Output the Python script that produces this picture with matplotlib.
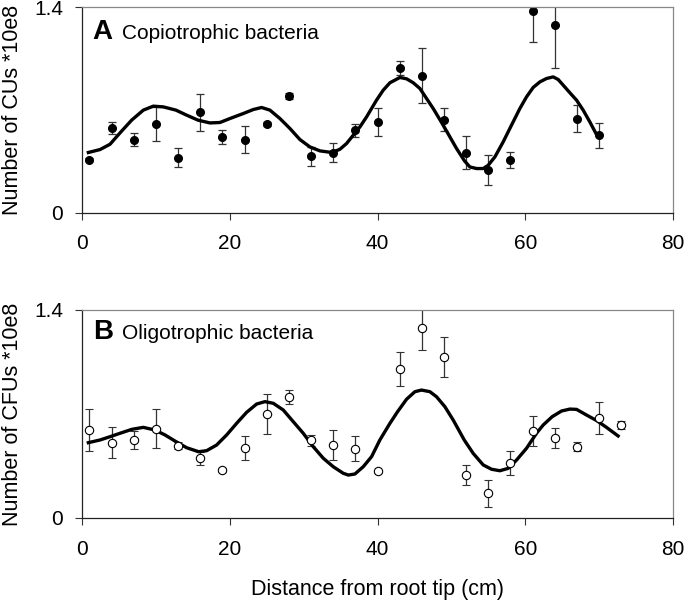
import matplotlib
matplotlib.use('Agg')
import matplotlib.pyplot as plt

plt.rcParams['font.family'] = ['Liberation Sans', 'DejaVu Sans']

# panel A: copiotrophic bacteria
cop_x = [1, 4, 7, 10, 13, 16, 19, 22, 25, 28, 31, 34, 37, 40,
         43, 46, 49, 52, 55, 58, 61, 64, 67, 70]
cop_y = [0.363, 0.576, 0.499, 0.603, 0.377, 0.683, 0.517, 0.499, 0.603, 0.796,
         0.384, 0.411, 0.563, 0.617, 0.984, 0.932, 0.635, 0.411, 0.290, 0.360,
         1.374, 1.275, 0.640, 0.527]
cop_err = [0.012, 0.039, 0.045, 0.116, 0.066, 0.127, 0.050, 0.093, 0.012, 0.018,
           0.063, 0.066, 0.045, 0.096, 0.048, 0.187, 0.077, 0.111, 0.103, 0.057,
           0.209, 0.290, 0.091, 0.084]
# fitted curve
cop_fit_x = [0.86, 2.44, 3.79, 5.14, 6.72, 8.30, 9.65, 11.01, 12.72, 14.16,
             15.70, 17.32, 18.67, 20.03, 21.83, 23.18, 24.31, 25.44, 26.79,
             28.15, 29.50, 30.85, 32.21, 33.83, 34.91, 35.81, 36.72, 37.62,
             38.52, 39.87, 40.78, 41.68, 43.03, 43.93, 44.84, 45.74, 46.64,
             47.54, 48.71, 49.80, 50.70, 51.78, 52.50, 53.41, 54.31, 54.98,
             55.89, 57.01, 58.14, 59.27, 60.17, 61.07, 61.98, 62.88, 63.78,
             64.46, 65.13, 66.04, 66.94, 67.84, 68.74, 69.69]
cop_fit_y = [0.411, 0.431, 0.467, 0.544, 0.631, 0.699, 0.726, 0.721, 0.699, 0.665,
             0.631, 0.612, 0.615, 0.642, 0.676, 0.703, 0.717, 0.699, 0.642,
             0.574, 0.499, 0.449, 0.422, 0.411, 0.433, 0.472, 0.529, 0.585,
             0.653, 0.767, 0.835, 0.885, 0.921, 0.912, 0.885, 0.846, 0.778,
             0.710, 0.612, 0.517, 0.438, 0.354, 0.313, 0.302, 0.302, 0.324,
             0.381, 0.483, 0.597, 0.710, 0.789, 0.853, 0.891, 0.914, 0.925,
             0.907, 0.869, 0.817, 0.767, 0.699, 0.619, 0.529]

# panel B: oligotrophic bacteria
oli_x = [1, 4, 7, 10, 13, 16, 19, 22, 25, 28, 31, 34, 37, 40,
         43, 46, 49, 52, 55, 58, 61, 64, 67, 70, 73]
oli_y = [0.592, 0.507, 0.523, 0.601, 0.487, 0.402, 0.323, 0.473, 0.700, 0.812,
         0.523, 0.493, 0.467, 0.314, 1.003, 1.279, 1.086, 0.289, 0.166, 0.372,
         0.585, 0.536, 0.480, 0.675, 0.628]
oli_err = [0.140, 0.103, 0.062, 0.130, 0.022, 0.045, 0.015, 0.082, 0.133, 0.047,
           0.038, 0.100, 0.086, 0.010, 0.112, 0.146, 0.135, 0.067, 0.090, 0.081,
           0.099, 0.067, 0.030, 0.109, 0.028]
oli_fit_x = [0.86, 2.44, 3.79, 5.14, 6.77, 8.30, 9.88, 11.23, 12.72, 14.16,
             15.79, 16.87, 18.22, 19.58, 20.93, 22.28, 23.64, 24.76, 25.89,
             27.24, 28.60, 29.95, 31.30, 32.66, 34.01, 35.36, 36.04, 36.94,
             38.07, 39.20, 40.32, 41.68, 42.71, 43.93, 45.06, 45.96, 47.09,
             47.99, 49.12, 50.25, 51.74, 52.95, 54.31, 55.44, 56.56, 57.69,
             58.82, 60.17, 61.52, 62.43, 63.65, 64.91, 66.04, 66.94, 68.29,
             69.69, 70.99, 72.57]
oli_fit_y = [0.507, 0.525, 0.547, 0.570, 0.597, 0.610, 0.592, 0.559, 0.514, 0.473,
             0.446, 0.453, 0.491, 0.559, 0.637, 0.711, 0.767, 0.783, 0.772,
             0.727, 0.648, 0.570, 0.480, 0.402, 0.345, 0.301, 0.289, 0.296,
             0.345, 0.413, 0.525, 0.637, 0.715, 0.799, 0.850, 0.861, 0.850,
             0.816, 0.749, 0.659, 0.525, 0.435, 0.357, 0.328, 0.318, 0.334,
             0.390, 0.469, 0.570, 0.626, 0.682, 0.720, 0.733, 0.731, 0.693,
             0.655, 0.610, 0.552]

fig = plt.figure(figsize=(6.85, 6.04), dpi=100)
axA = fig.add_axes([0.1197, 0.6474, 0.8628, 0.341])
axB = fig.add_axes([0.1197, 0.1424, 0.8628, 0.3444])


def style(ax, ylabel):
    ax.set_xlim(0, 80)
    ax.set_ylim(0, 1.4)
    ax.set_xticks([0, 20, 40, 60, 80])
    ax.set_yticks([0, 1.4])
    ax.set_yticklabels(['0', '1.4'])
    ax.tick_params(direction='out', length=5, width=0.8, color='#333333',
                   labelsize=15)
    ax.tick_params(axis='x', pad=10.5)
    ax.tick_params(axis='y', pad=8.5)
    for s in ['top', 'right']:
        ax.spines[s].set_color('#888888')
    for s in ['left', 'bottom']:
        ax.spines[s].set_color('#222222')
    for s in ax.spines.values():
        s.set_linewidth(0.9)
    ax.set_ylabel(ylabel, fontsize=15.5)
    ax.yaxis.set_label_coords(-0.1005, 0.5)


axA.errorbar(cop_x, cop_y, yerr=cop_err, fmt='o', color='black', ms=5.5,
             ecolor='#333333', elinewidth=0.9, capsize=2.7, capthick=0.9)
axA.plot(cop_fit_x, cop_fit_y, color='black', lw=2.4)
style(axA, 'Number of CUs *10e8')
axA.text(0.018, 0.847, 'A', transform=axA.transAxes, fontsize=20,
         fontweight='bold', va='baseline')
axA.text(0.068, 0.847, 'Copiotrophic bacteria', transform=axA.transAxes,
         fontsize=15, va='baseline')

axB.errorbar(oli_x, oli_y, yerr=oli_err, fmt='o', mfc='white', mec='black',
             mew=0.8, ms=6, ecolor='#333333', elinewidth=0.9, capsize=2.7,
             capthick=0.9)
axB.plot(oli_fit_x, oli_fit_y, color='black', lw=2.4)
style(axB, 'Number of CFUs *10e8')
axB.text(0.018, 0.861, 'B', transform=axB.transAxes, fontsize=20,
         fontweight='bold', va='baseline')
axB.text(0.067, 0.861, 'Oligotrophic bacteria', transform=axB.transAxes,
         fontsize=15, va='baseline')
axB.set_xlabel('Distance from root tip (cm)', fontsize=15.5)
axB.xaxis.set_label_coords(0.5, -0.291)

fig.savefig('out.png', dpi=100)
